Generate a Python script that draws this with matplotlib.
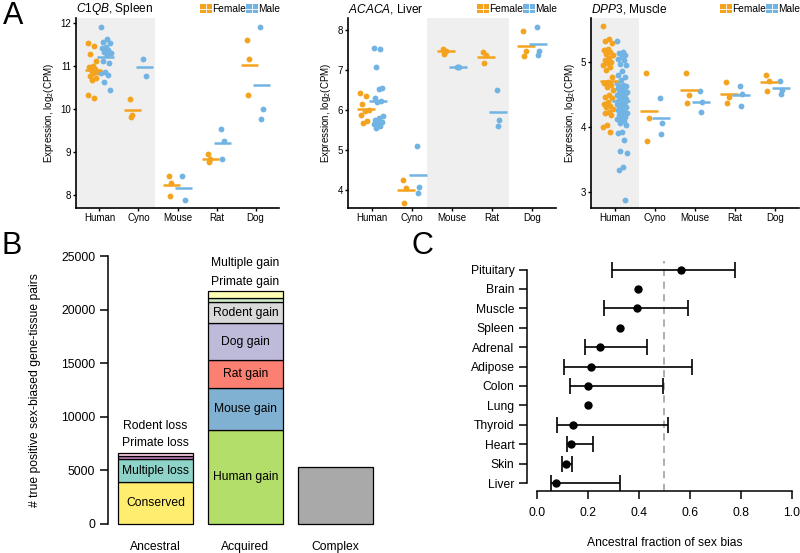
import numpy as np
import matplotlib
matplotlib.use('Agg')
import matplotlib.pyplot as plt
from matplotlib.patches import Rectangle
from matplotlib.lines import Line2D

plt.rcParams['font.family'] = ['Liberation Sans', 'DejaVu Sans']
plt.rcParams['mathtext.fontset'] = 'custom'
plt.rcParams['mathtext.rm'] = 'Liberation Sans'
plt.rcParams['mathtext.it'] = 'Liberation Sans:italic'
plt.rcParams['mathtext.bf'] = 'Liberation Sans:bold'

W, H = 800, 553
FEMALE = '#F4A31F'
MALE = '#71B4E3'
SHADE = '#EFEFEF'

# ---- panel A: log2(CPM) per individual, one list per species ----
species = ['Human', 'Cyno', 'Mouse', 'Rat', 'Dog']

c1qb_female = [[11.53, 11.48, 11.28, 11.12, 11.0, 10.97, 10.93, 10.9, 10.87, 10.83, 10.78, 10.72, 10.68, 10.32, 10.27],
               [10.23, 9.86, 9.82],
               [8.45, 8.29, 7.98],
               [8.95, 8.84, 8.76],
               [11.61, 11.16, 10.33]]
c1qb_male = [[11.92, 11.62, 11.57, 11.55, 11.45, 11.42, 11.38, 11.34, 11.3, 11.26, 11.11, 11.07, 10.87, 10.83, 10.79, 10.64, 10.45],
             [11.16, 10.78],
             [8.45, 7.88],
             [9.53, 9.25, 8.85],
             [11.91, 10.0, 9.77]]

acaca_female = [[6.42, 6.36, 6.15, 6.0, 5.97, 5.88, 5.72, 5.68],
                [4.25, 4.04, 3.66],
                [7.52, 7.49, 7.41],
                [7.46, 7.39, 7.18],
                [7.98, 7.47, 7.36]]
acaca_male = [[7.56, 7.54, 7.09, 6.56, 6.53, 6.31, 6.22, 6.2, 5.86, 5.8, 5.76, 5.71, 5.68, 5.65, 5.61, 5.56],
              [5.1, 4.06, 3.92],
              [7.08, 7.07, 7.07],
              [6.5, 5.76, 5.59],
              [8.08, 7.49, 7.37]]

dpp3_female = [[5.55, 5.34, 5.31, 5.28, 5.19, 5.18, 5.15, 5.11, 5.10, 5.05, 5.03, 5.0, 4.98, 4.95, 4.92, 4.87,
                4.76, 4.69, 4.67, 4.64, 4.61, 4.57, 4.49, 4.46, 4.44, 4.38, 4.35, 4.32, 4.30, 4.27, 4.23, 4.21,
                4.18, 4.03, 3.99, 3.92],
               [4.83, 4.13, 3.78],
               [4.83, 4.48, 4.36],
               [4.68, 4.46, 4.37],
               [4.79, 4.70, 4.55]]
dpp3_male = [[5.32, 5.15, 5.13, 5.10, 5.07, 5.04, 5.02, 4.97, 4.95, 4.86, 4.79, 4.76, 4.72, 4.67, 4.64, 4.63,
              4.62, 4.61, 4.59, 4.56, 4.55, 4.54, 4.52, 4.51, 4.50, 4.49, 4.48, 4.46, 4.44, 4.43, 4.41, 4.40,
              4.38, 4.36, 4.35, 4.33, 4.31, 4.30, 4.28, 4.26, 4.25, 4.23, 4.21, 4.20, 4.18, 4.15, 4.13, 4.12,
              4.09, 4.06, 4.03, 3.92, 3.90, 3.79, 3.62, 3.59, 3.38, 3.34, 2.87],
             [4.44, 4.06, 3.88],
             [4.55, 4.38, 4.23],
             [4.63, 4.50, 4.32],
             [4.70, 4.57, 4.50]]

# ---- panel B: true positive sex-biased gene-tissue pairs ----
anc_labels = ['Conserved', 'Multiple loss', 'Primate loss', 'Rodent loss']
anc_vals = [3900, 2175, 310, 280]
anc_cols = ['#FFED6F', '#8DD3C7', '#BC80BD', '#FCCDE5']
acq_labels = ['Human gain', 'Mouse gain', 'Rat gain', 'Dog gain', 'Rodent gain', 'Primate gain', 'Multiple gain']
acq_vals = [8800, 3880, 2650, 3430, 1990, 400, 650]
acq_cols = ['#B3DE69', '#80B1D3', '#FB8072', '#BEBADA', '#D9D9D9', '#CCEBC5', '#FFFFB3']
complex_val = 5350
groups = ['Ancestral', 'Acquired', 'Complex']

# ---- panel C: ancestral fraction of sex bias per tissue (bottom to top) ----
tissues = ['Liver', 'Skin', 'Heart', 'Thyroid', 'Lung', 'Colon', 'Adipose', 'Adrenal', 'Spleen', 'Muscle', 'Brain', 'Pituitary']
frac = [0.075, 0.112, 0.132, 0.140, 0.199, 0.200, 0.212, 0.247, 0.324, 0.392, 0.397, 0.563]
ci_lo = [0.055, 0.100, 0.116, 0.080, np.nan, 0.129, 0.106, 0.188, np.nan, 0.264, np.nan, 0.295]
ci_hi = [0.325, 0.138, 0.218, 0.512, np.nan, 0.493, 0.609, 0.433, np.nan, 0.593, np.nan, 0.776]


def px_rect(l, t, r, b):
    return [l / W, 1 - b / H, (r - l) / W, (b - t) / H]


def spread(n, amp):
    k = np.arange(n)
    return ((k * 0.618034) % 1 - 0.5) * 2 * amp


fig = plt.figure(figsize=(8, 5.53), dpi=100)


def expr_panel(rect, female, male, ylim, yticks, shade, gene, tissue):
    ax = fig.add_axes(px_rect(*rect))
    for lo, hi in shade:
        ax.axvspan(lo, hi, color=SHADE, lw=0, zorder=0)
    for i in range(len(species)):
        x = i + 1
        for vals, col, off in ((female[i], FEMALE, -0.17), (male[i], MALE, 0.17)):
            vals = np.asarray(vals)
            amp = 0.13 if len(vals) > 6 else 0.05
            ax.plot(x + off + spread(len(vals), amp), vals, 'o', ms=4.2, color=col, mec='none', zorder=2)
            c = x + off * 0.88
            ax.hlines(vals.mean(), c - 0.22, c + 0.22, color=col, lw=1.8, zorder=3)
    ax.set_xlim(0.4, 5.6)
    ax.set_ylim(*ylim)
    ax.set_xticks(range(1, 6))
    ax.set_xticklabels(species)
    ax.set_yticks(yticks)
    for s in ['top', 'right']:
        ax.spines[s].set_visible(False)
    for s in ['left', 'bottom']:
        ax.spines[s].set_linewidth(1.2)
    ax.tick_params(labelsize=7, length=2, width=1, pad=1.5)
    ax.set_ylabel(r'Expression, log$_2$(CPM)', fontsize=7, labelpad=3)
    ax.set_title(r'$\it{' + gene + '}$, ' + tissue, loc='left', fontsize=8.6, pad=4)
    # legend keys
    r = rect[2]
    for col, lab, x0 in ((FEMALE, 'Female', r - 79), (MALE, 'Male', r - 33)):
        fig.add_artist(Rectangle((x0 / W, 1 - 13 / H), 12 / W, 9 / H, transform=fig.transFigure,
                                 color=col, lw=0))
        fig.add_artist(Line2D([(x0 + 6) / W] * 2, [1 - 13 / H, 1 - 4 / H], transform=fig.transFigure,
                              color='white', lw=0.6))
        fig.add_artist(Line2D([x0 / W, (x0 + 12) / W], [1 - 8.5 / H] * 2, transform=fig.transFigure,
                              color='white', lw=0.6))
        fig.text((x0 + 12.5) / W, 1 - 8.5 / H, lab, fontsize=7.3, va='center', ha='left')
    return ax


expr_panel((76, 18, 279, 208), c1qb_female, c1qb_male, (7.7, 12.12), [8, 9, 10, 11, 12],
           [(0.4, 2.43)], 'C1QB', 'Spleen')
expr_panel((348, 18, 556, 208), acaca_female, acaca_male, (3.54, 8.31), [4, 5, 6, 7, 8],
           [(2.38, 4.43)], 'ACACA', 'Liver')
expr_panel((591, 18, 799, 208), dpp3_female, dpp3_male, (2.75, 5.67), [3, 4, 5],
           [(0.4, 1.6)], 'DPP3', 'Muscle')

# ---- panel B ----
axb = fig.add_axes(px_rect(107.8, 250, 383, 530))
xc = [0.7, 1.9, 3.1]
bottom = 0
for lab, v, col in zip(anc_labels, anc_vals, anc_cols):
    axb.bar(xc[0], v, width=1.0, bottom=bottom, color=col, edgecolor='black', lw=0.9)
    if v > 1000:
        axb.text(xc[0], bottom + v / 2, lab, ha='center', va='center', fontsize=8.7)
    bottom += v
anc_total = bottom
bottom = 0
for lab, v, col in zip(acq_labels, acq_vals, acq_cols):
    axb.bar(xc[1], v, width=1.0, bottom=bottom, color=col, edgecolor='black', lw=0.9)
    if v > 1000:
        axb.text(xc[1], bottom + v / 2, lab, ha='center', va='center', fontsize=8.7)
    bottom += v
acq_total = bottom
axb.bar(xc[2], complex_val, width=1.0, color='#A9A9A9', edgecolor='black', lw=0.9)
axb.text(xc[0], anc_total + 900, anc_labels[2], ha='center', va='center', fontsize=8.7)
axb.text(xc[0], anc_total + 2450, anc_labels[3], ha='center', va='center', fontsize=8.7)
axb.text(xc[1], acq_total + 850, acq_labels[5], ha='center', va='center', fontsize=8.7)
axb.text(xc[1], acq_total + 2550, acq_labels[6], ha='center', va='center', fontsize=8.7)
for x, g in zip(xc, groups):
    axb.text(x, -2150, g, ha='center', va='center', fontsize=8.7)
axb.set_xlim(0.064, 3.736)
axb.set_ylim(-561, 25607)
axb.set_xticks([])
axb.set_yticks(range(0, 25001, 5000))
axb.tick_params(axis='y', labelsize=8.7, length=6, width=1.1, pad=3)
for s in ['top', 'right', 'bottom']:
    axb.spines[s].set_visible(False)
axb.spines['left'].set_bounds(0, 25000)
axb.spines['left'].set_linewidth(1.1)
axb.set_ylabel('# true positive sex-biased gene-tissue pairs', fontsize=8.7)
axb.yaxis.set_label_coords(-0.243, 0.5)

# ---- panel C ----
axc = fig.add_axes(px_rect(527, 261, 800, 491))
y = np.arange(len(tissues))
axc.axvline(0.5, color='#A8A8A8', lw=1.3, ls=(0, (4, 3)), zorder=0)
lo = np.asarray(ci_lo)
hi = np.asarray(ci_hi)
f = np.asarray(frac)
ok = ~np.isnan(lo)
axc.errorbar(f[ok], y[ok], xerr=[f[ok] - lo[ok], hi[ok] - f[ok]], fmt='none', ecolor='black',
             elinewidth=1.2, capsize=5.5, capthick=1.2)
axc.plot(f, y, 'o', color='black', ms=5)
axc.set_xlim(-0.0392, 1.0314)
axc.set_ylim(-0.412, 11.44)
axc.set_yticks(y)
axc.set_yticklabels(tissues)
axc.set_xticks(np.arange(0, 1.01, 0.2))
axc.set_xticklabels(['0.0', '0.2', '0.4', '0.6', '0.8', '1.0'])
for s in ['top', 'right']:
    axc.spines[s].set_visible(False)
axc.spines['left'].set_bounds(0, 11)
axc.spines['bottom'].set_bounds(0, 1)
axc.spines['left'].set_linewidth(1.1)
axc.spines['bottom'].set_linewidth(1.1)
axc.tick_params(axis='y', labelsize=8.7, length=6, width=1.1, pad=3)
axc.tick_params(axis='x', labelsize=8.7, length=5.5, width=1.1, pad=6)
axc.set_xlabel('Ancestral fraction of sex bias', fontsize=8.7)
axc.xaxis.set_label_coords(0.505, -0.2)

# panel letters
fig.text(3 / W, 1 - 1 / H, 'A', fontsize=22, va='top', ha='left')
fig.text(2 / W, 1 - 231 / H, 'B', fontsize=22, va='top', ha='left')
fig.text(411 / W, 1 - 231 / H, 'C', fontsize=22, va='top', ha='left')

fig.savefig('out.png', dpi=100)
